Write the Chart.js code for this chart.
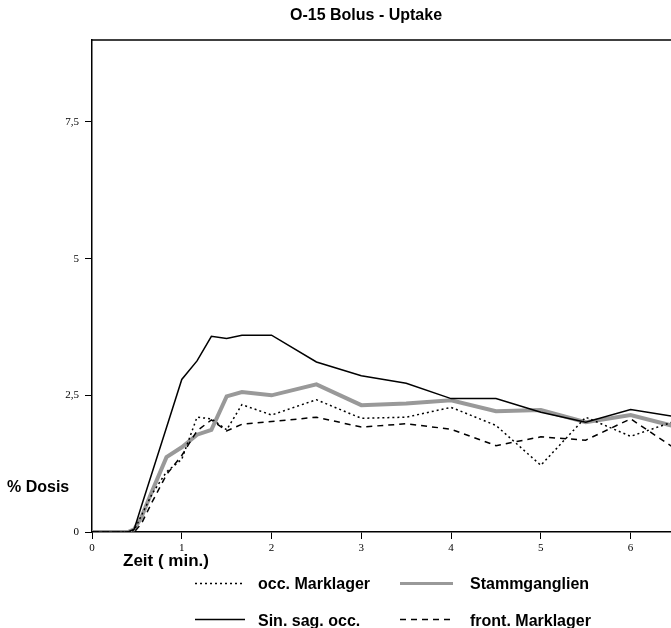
<!DOCTYPE html>
<html>
<head>
<meta charset="utf-8">
<script src="https://cdn.jsdelivr.net/npm/chart.js@4/dist/chart.umd.min.js"></script>
<style>
  html, body { margin:0; padding:0; background:#fff; }
  #wrap { position:relative; width:671px; height:628px; overflow:hidden; background:#fff; }
  #c { position:absolute; left:0; top:0; }
  .t { position:absolute; font-family:"Liberation Sans", Arial, sans-serif; font-weight:bold; color:#000; line-height:1; white-space:pre; }
  #leg { position:absolute; left:0; top:0; }
</style>
</head>
<body>
<div id="wrap">
  <canvas id="c" width="671" height="628"></canvas>
  <div class="t" style="left:290px; top:7px; font-size:16px;">O-15 Bolus - Uptake</div>
  <div class="t" style="left:7px; top:479px; font-size:16px;">% Dosis</div>
  <div class="t" style="left:123px; top:552px; font-size:17px;">Zeit ( min.)</div>
  <svg id="leg" width="671" height="628">
    <line x1="195" y1="583.5" x2="242" y2="583.5" stroke="#000" stroke-width="1.5" stroke-dasharray="2,3"/>
    <line x1="400" y1="583.5" x2="453" y2="583.5" stroke="#999" stroke-width="3"/>
    <line x1="195" y1="619.5" x2="245" y2="619.5" stroke="#000" stroke-width="1.5"/>
    <line x1="400" y1="619.5" x2="452" y2="619.5" stroke="#000" stroke-width="1.5" stroke-dasharray="6,5"/>
  </svg>
  <div class="t" style="left:258px; top:576px; font-size:16px;">occ. Marklager</div>
  <div class="t" style="left:470px; top:576px; font-size:16px;">Stammganglien</div>
  <div class="t" style="left:258px; top:613px; font-size:16px;">Sin. sag. occ.</div>
  <div class="t" style="left:470px; top:613px; font-size:16px;">front. Marklager</div>
</div>
<script>
// time in minutes
const times = [0, 0.2, 0.4, 0.47, 0.55, 0.67, 0.83, 1.0, 1.17, 1.33, 1.5, 1.67, 2.0, 2.5, 3.0, 3.5, 4.0, 4.5, 5.0, 5.5, 6.0, 6.5];
// % Dosis per series
const occMarklager   = [0, 0, 0, 0.03, 0.30, 0.70, 1.10, 1.33, 2.10, 2.07, 1.87, 2.33, 2.14, 2.42, 2.08, 2.10, 2.28, 1.95, 1.22, 2.10, 1.75, 2.03];
const stammganglien  = [0, 0, 0, 0.05, 0.27, 0.75, 1.37, 1.55, 1.78, 1.87, 2.48, 2.56, 2.50, 2.70, 2.32, 2.35, 2.41, 2.21, 2.23, 2.01, 2.14, 1.93];
const sinSagOcc      = [0, 0, 0, 0.05, 0.47, 1.09, 1.91, 2.79, 3.13, 3.58, 3.54, 3.60, 3.60, 3.11, 2.86, 2.72, 2.44, 2.44, 2.19, 2.01, 2.24, 2.11];
const frontMarklager = [0, 0, 0, 0.00, 0.15, 0.55, 1.05, 1.40, 1.85, 2.05, 1.85, 1.97, 2.02, 2.10, 1.92, 1.98, 1.88, 1.58, 1.74, 1.68, 2.07, 1.52];

const xTicks = [0, 1, 2, 3, 4, 5, 6];
const xTickLabels = ['0', '1', '2', '3', '4', '5', '6'];
const yTicks = [0, 2.5, 5, 7.5];
const yTickLabels = ['0', '2,5', '5', '7,5'];

const pts = arr => arr.map((v, i) => ({ x: times[i], y: v }));

const topBorder = {
  id: 'topBorder',
  afterDraw(chart) {
    const { ctx, chartArea } = chart;
    ctx.save();
    ctx.strokeStyle = '#000';
    ctx.lineWidth = 1.5;
    ctx.beginPath();
    ctx.moveTo(chartArea.left, chartArea.top);
    ctx.lineTo(chartArea.right + 2, chartArea.top);
    ctx.stroke();
    ctx.restore();
  }
};

new Chart(document.getElementById('c'), {
  type: 'line',
  data: {
    datasets: [
      { label: 'occ. Marklager', data: pts(occMarklager), borderColor: '#000', borderWidth: 1.5, borderDash: [2, 3], order: 1 },
      { label: 'Stammganglien', data: pts(stammganglien), borderColor: '#999', borderWidth: 4, order: 4 },
      { label: 'Sin. sag. occ.', data: pts(sinSagOcc), borderColor: '#000', borderWidth: 1.5, order: 2 },
      { label: 'front. Marklager', data: pts(frontMarklager), borderColor: '#000', borderWidth: 1.5, borderDash: [6, 5], order: 3 }
    ]
  },
  options: {
    responsive: false,
    animation: false,
    devicePixelRatio: 1,
    layout: { padding: { top: 40, left: 0, right: 0, bottom: 0 } },
    elements: { point: { radius: 0 }, line: { tension: 0, fill: false } },
    plugins: { legend: { display: false }, title: { display: false }, tooltip: { enabled: false } },
    scales: {
      x: {
        type: 'linear', min: 0, max: 6.45,
        afterBuildTicks: s => { s.ticks = xTicks.map(v => ({ value: v })); },
        afterFit: s => { s.height = 96; },
        grid: { drawOnChartArea: false, drawTicks: true, tickLength: 7, color: '#000', lineWidth: 1 },
        border: { display: true, color: '#000', width: 1.5 },
        ticks: {
          padding: 3, color: '#000',
          font: { family: '"Liberation Serif", "Times New Roman", serif', size: 11 },
          callback: (v) => { const i = xTicks.indexOf(v); return i >= 0 ? xTickLabels[i] : ''; }
        }
      },
      y: {
        type: 'linear', min: 0, max: 9,
        afterBuildTicks: s => { s.ticks = yTicks.map(v => ({ value: v })); },
        afterFit: s => { s.width = 92; },
        grid: { drawOnChartArea: false, drawTicks: true, tickLength: 7, color: '#000', lineWidth: 1 },
        border: { display: true, color: '#000', width: 1.5 },
        ticks: {
          padding: 6, color: '#000',
          font: { family: '"Liberation Serif", "Times New Roman", serif', size: 11 },
          callback: (v) => { const i = yTicks.indexOf(v); return i >= 0 ? yTickLabels[i] : ''; }
        }
      }
    }
  },
  plugins: [topBorder]
});
</script>
</body>
</html>
